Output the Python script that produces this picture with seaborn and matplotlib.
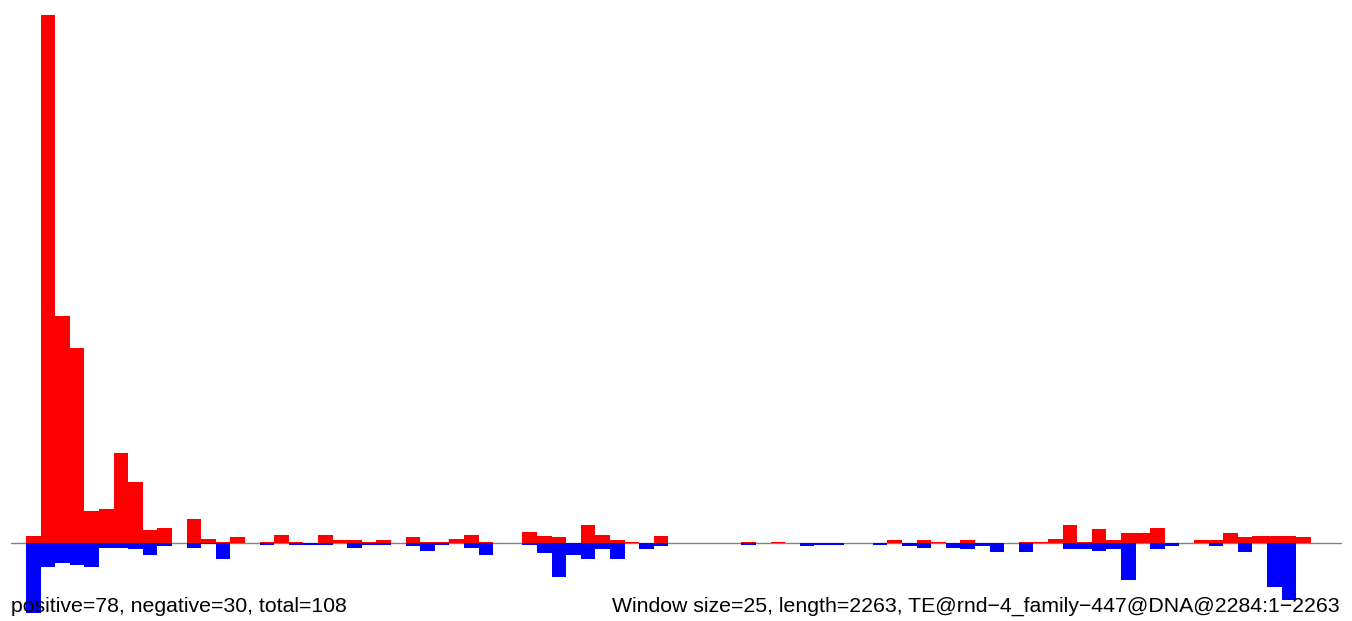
import pandas as pd
import matplotlib
matplotlib.use("Agg")
import matplotlib.pyplot as plt
import seaborn as sns

# --- data: per-window counts (25 bp windows) -------------------------------
windows = list(range(88))
pos_counts = [7, 528, 227, 195, 32, 34, 90, 61, 13, 15,
              0, 24, 4, 1, 6, 0, 1, 8, 1, 0,
              8, 3, 3, 1, 3, 0, 6, 1, 1, 4,
              8, 1, 0, 0, 11, 7, 6, 0, 18, 8,
              3, 1, 0, 7, 0, 0, 0, 0, 0, 1,
              0, 1, 0, 0, 0, 0, 0, 0, 0, 3,
              0, 3, 1, 0, 3, 0, 0, 0, 1, 1,
              4, 18, 1, 14, 3, 10, 10, 15, 0, 0,
              3, 3, 10, 6, 7, 7, 7, 6]
neg_counts = [70, 24, 20, 22, 24, 5, 5, 6, 12, 3,
              0, 5, 1, 16, 0, 0, 2, 0, 2, 2,
              2, 0, 5, 2, 2, 0, 3, 8, 2, 0,
              5, 12, 0, 0, 2, 10, 34, 12, 16, 6,
              16, 0, 6, 3, 0, 0, 0, 0, 0, 2,
              0, 0, 0, 3, 2, 2, 0, 0, 2, 0,
              3, 5, 0, 5, 6, 3, 9, 0, 9, 0,
              0, 6, 6, 8, 6, 37, 0, 6, 3, 0,
              0, 3, 0, 9, 0, 44, 57, 0]

left_label = "positive=78, negative=30, total=108"
right_label = "Window size=25, length=2263, TE@rnd\u22124_family\u2212447@DNA@2284:1\u22122263"

df = pd.DataFrame({"window": windows, "pos": pos_counts,
                   "neg": [-v for v in neg_counts]})

sns.set_style("white")
plt.rcParams["font.family"] = ["Liberation Sans", "DejaVu Sans"]

fig = plt.figure(figsize=(13.52, 6.21), dpi=100)
ax = fig.add_axes([0, 0, 1, 1])

# zero line under the bars
ax.axhline(0, xmin=0.0081, xmax=0.9919, color="gray", linewidth=1.0, zorder=0)

bar_kw = dict(width=1, errorbar=None, saturation=1, linewidth=0,
              antialiased=False, ax=ax)
sns.barplot(data=df, x="window", y="pos", color="#ff0000", **bar_kw)
sns.barplot(data=df, x="window", y="neg", color="#0000ff", **bar_kw)

ax.set_xlim(-2.28, 90.32)
ax.set_ylim(-78, 543)
ax.set_axis_off()

ax.text(0.0081, 0.024, left_label, transform=ax.transAxes,
        ha="left", va="center", fontsize=15.3, color="black", zorder=5)
ax.text(0.9911, 0.024, right_label, transform=ax.transAxes,
        ha="right", va="center", fontsize=15.3, color="black", zorder=5)

fig.savefig("out.png", dpi=100, facecolor="white")
